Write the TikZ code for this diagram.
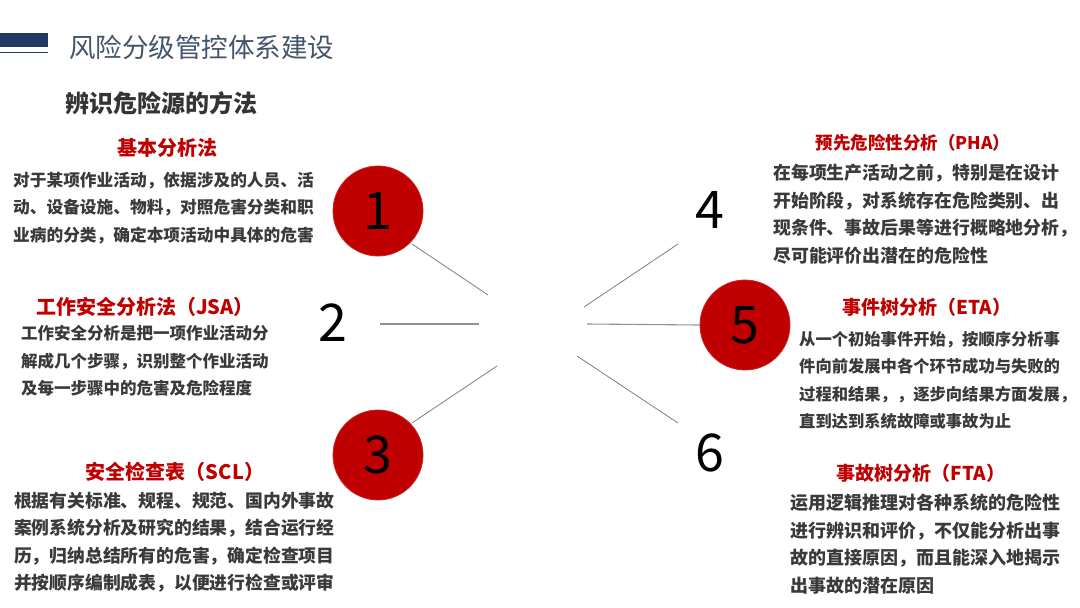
\documentclass[tikz,border=0pt]{standalone}
\usepackage{fontspec}
\setmainfont{Noto Sans CJK SC}
\newfontfamily\cjk{Noto Sans CJK SC}
\definecolor{navy}{HTML}{1F3864}
\definecolor{slate}{HTML}{44546A}
\definecolor{hred}{HTML}{C00000}
\definecolor{btxt}{HTML}{3A3A3A}
\definecolor{lgrey}{HTML}{7F7F7F}
\begin{document}
\begin{tikzpicture}[x=1pt,y=-1pt,
  numcircle/.style={circle,fill=hred,draw=hred!85!white,line width=0.8pt,minimum size=90pt,inner sep=0pt},
  numtext/.style={font=\cjk\fontsize{52}{52}\selectfont,text=black,inner sep=0pt},
  ttl/.style={font=\cjk\bfseries\fontsize{#1}{#1}\selectfont,text=hred,inner sep=0pt},
  body/.style={font=\cjk\bfseries\fontsize{#1}{27.5}\selectfont,text=btxt,inner sep=0pt,align=left,anchor=north west},
  spoke/.style={draw=lgrey,line width=0.8pt}]
\useasboundingbox (0,0) rectangle (1080,608);
\fill[white] (0,0) rectangle (1080,608);
% header
\fill[navy] (0,33) rectangle (48,47);
\draw[navy,line width=1.5pt] (0,52.5) -- (48,52.5);
\node[font=\cjk\fontsize{26.5}{26.5}\selectfont,text=slate,anchor=west,inner sep=0pt] (title) at (69,47) {风险分级管控体系建设};
\node[font=\cjk\bfseries\fontsize{24}{24}\selectfont,text=btxt!90!black,anchor=west,inner sep=0pt] (sub) at (65,103) {辨识危险源的方法};
% circles and numbers
\node[numcircle] (c1) at (378,211) {};
\node[numcircle] (c3) at (378,455) {};
\node[numcircle] (c5) at (745,325) {};
\node[numtext] (n1) at (c1) {1};
\node[numtext] (n3) at (c3) {3};
\node[numtext] (n5) at (c5) {5};
\node[numtext] (n2) at (333,323) {2};
\node[numtext] (n4) at (710,210) {4};
\node[numtext] (n6) at (710,453) {6};
% spokes
\coordinate (s1) at (412,244);
\coordinate (e1) at (488,295);
\coordinate (s2) at (380,324);
\coordinate (e2) at (479,324);
\coordinate (s3) at (412,423);
\coordinate (e3) at (497,366);
\coordinate (s4) at (678,244);
\coordinate (e4) at (584,307);
\coordinate (e5) at (587,324);
\coordinate (e6) at (577,356);
\coordinate (s6) at (678,423);
\draw[spoke] (s1) -- (e1);
\draw[spoke,line width=1.1pt,draw=lgrey!85!white] (s2) -- (e2);
\draw[spoke] (s3) -- (e3);
\draw[spoke] (s4) -- (e4);
\draw[spoke,line width=1.1pt,draw=lgrey!85!white] (e5) -- (c5.west);
\draw[spoke] (e6) -- (s6);
% block 1
\node[ttl=20] (t1) at (167,148) {基本分析法};
\node[body=16.7] (b1) at (13,171.5) {对于某项作业活动，依据涉及的人员、活\\动、设备设施、物料，对照危害分类和职\\业病的分类，确定本项活动中具体的危害};
% block 2
\node[ttl=20] (t2) at (145,307) {工作安全分析法（JSA）};
\node[body=16.5] (b2) at (21,325.5) {工作安全分析是把一项作业活动分\\解成几个步骤，识别整个作业活动\\及每一步骤中的危害及危险程度};
% block 3
\node[ttl=20] (t3) at (175,472) {安全检查表（SCL）};
\node[body=17.8] (b3) at (14,492) {根据有关标准、规程、规范、国内外事故\\案例系统分析及研究的结果，结合运行经\\历，归纳总结所有的危害，确定检查项目\\并按顺序编制成表，以便进行检查或评审};
% block 4
\node[ttl=17.5] (t4) at (913,143) {预先危险性分析（PHA）};
\node[body=17.9] (b4) at (773,164) {在每项生产活动之前，特别是在设计\\开始阶段，对系统存在危险类别、出\\现条件、事故后果等进行概略地分析，\\尽可能评价出潜在的危险性};
% block 5
\node[ttl=19] (t5) at (927,307) {事件树分析（ETA）};
\node[body=16.3] (b5) at (799,331) {从一个初始事件开始，按顺序分析事\\件向前发展中各个环节成功与失败的\\过程和结果，，逐步向结果方面发展，\\直到达到系统故障或事故为止};
% block 6
\node[ttl=19] (t6) at (921,473) {事故树分析（FTA）};
\node[body=18] (b6) at (790,494) {运用逻辑推理对各种系统的危险性\\进行辨识和评价，不仅能分析出事\\故的直接原因，而且能深入地揭示\\出事故的潜在原因};
\end{tikzpicture}
\end{document}
